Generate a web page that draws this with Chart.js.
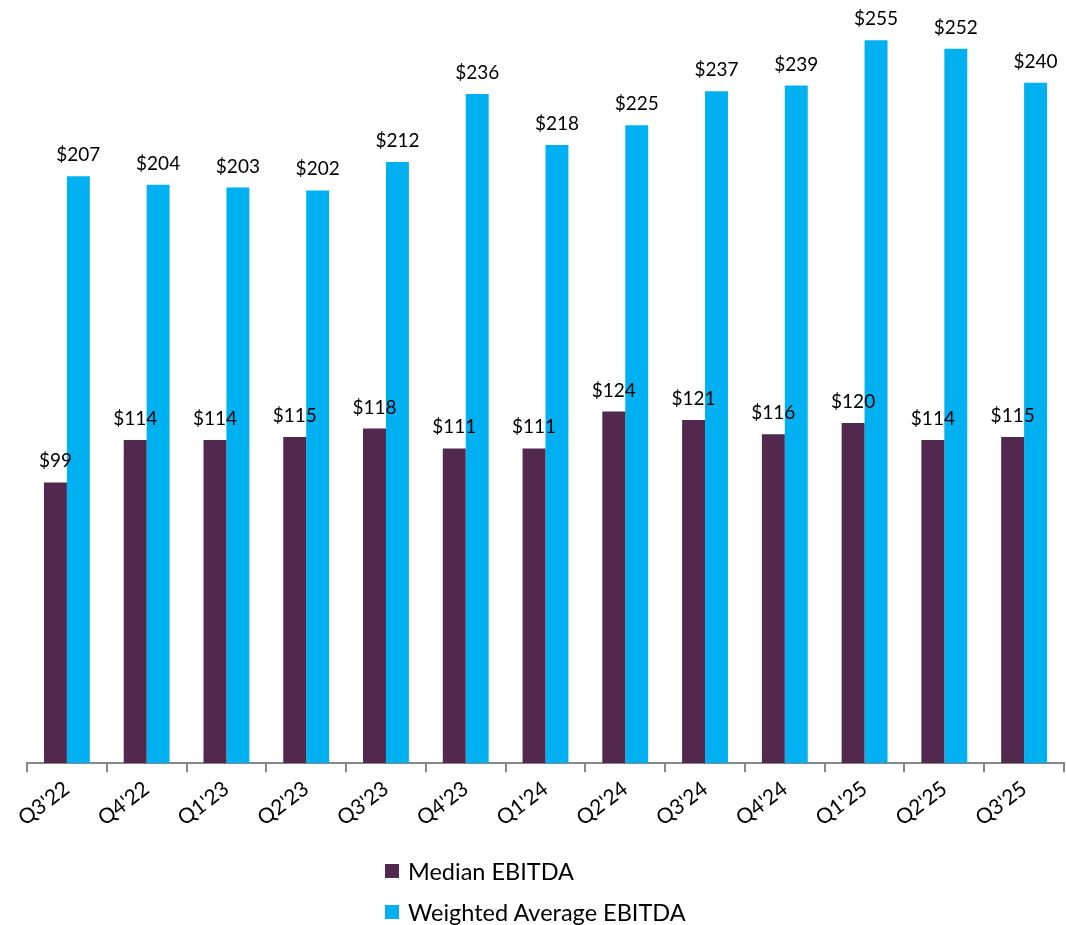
<!DOCTYPE html>
<html>
<head>
<meta charset="utf-8">
<script src="https://cdn.jsdelivr.net/npm/chart.js@4.4.0/dist/chart.umd.min.js"></script>
<style>
    body { margin: 0; background: #fff; }
    #wrap { position: relative; width: 1066px; height: 925px; }
    #legend { position: absolute; left: 385px; top: 850px; font-family: Lato, sans-serif; font-size: 23.5px; color: #000; }
    .item { display: flex; align-items: center; height: 41px; }
    .box { width: 14px; height: 14px; margin-right: 9px; }
</style>
</head>
<body>
<div id="wrap">
    <canvas id="chart" width="1066" height="925"></canvas>
    <div id="legend"></div>
</div>
<script>
// data
const quarters = ["Q3'22", "Q4'22", "Q1'23", "Q2'23", "Q3'23", "Q4'23", "Q1'24", "Q2'24", "Q3'24", "Q4'24", "Q1'25", "Q2'25", "Q3'25"];
const medianEbitda = [99, 114, 114, 115, 118, 111, 111, 124, 121, 116, 120, 114, 115];
const weightedAvgEbitda = [207, 204, 203, 202, 212, 236, 218, 225, 237, 239, 255, 252, 240];

const purple = '#52284F';
const blue = '#00B0F0';

// value labels above bars
const barLabels = {
    id: 'barLabels',
    afterDatasetsDraw(chart) {
        const ctx = chart.ctx;
        ctx.save();
        ctx.font = '19px Lato, sans-serif';
        ctx.fillStyle = '#000';
        ctx.textAlign = 'center';
        ctx.textBaseline = 'alphabetic';
        chart.data.datasets.forEach((ds, i) => {
            chart.getDatasetMeta(i).data.forEach((bar, j) => {
                ctx.fillText('$' + ds.data[j], bar.x, bar.y - 15);
            });
        });
        ctx.restore();
    }
};

const chart = new Chart(document.getElementById('chart'), {
    type: 'bar',
    data: {
        labels: quarters,
        datasets: [
            { label: 'Median EBITDA', data: medianEbitda, backgroundColor: purple },
            { label: 'Weighted Average EBITDA', data: weightedAvgEbitda, backgroundColor: blue }
        ]
    },
    options: {
        responsive: false,
        animation: false,
        layout: { padding: { top: 26, left: 27, right: 2, bottom: 90 } },
        categoryPercentage: 0.575,
        barPercentage: 1,
        plugins: {
            legend: { display: false },
            tooltip: { enabled: false }
        },
        scales: {
            y: { display: false, min: 0, max: 260 },
            x: {
                border: { color: '#888', width: 2 },
                grid: { offset: true, drawOnChartArea: false, color: '#888', lineWidth: 2, tickLength: 9 },
                ticks: {
                    color: '#000',
                    font: { family: 'Lato, sans-serif', size: 21 },
                    maxRotation: 37,
                    minRotation: 37,
                    padding: 4
                }
            }
        }
    },
    plugins: [barLabels]
});

// legend
const legend = document.getElementById('legend');
chart.data.datasets.forEach(ds => {
    const item = document.createElement('div');
    item.className = 'item';
    item.innerHTML = `<span class="box" style="background:${ds.backgroundColor}"></span>${ds.label}`;
    legend.appendChild(item);
});
</script>
</body>
</html>
